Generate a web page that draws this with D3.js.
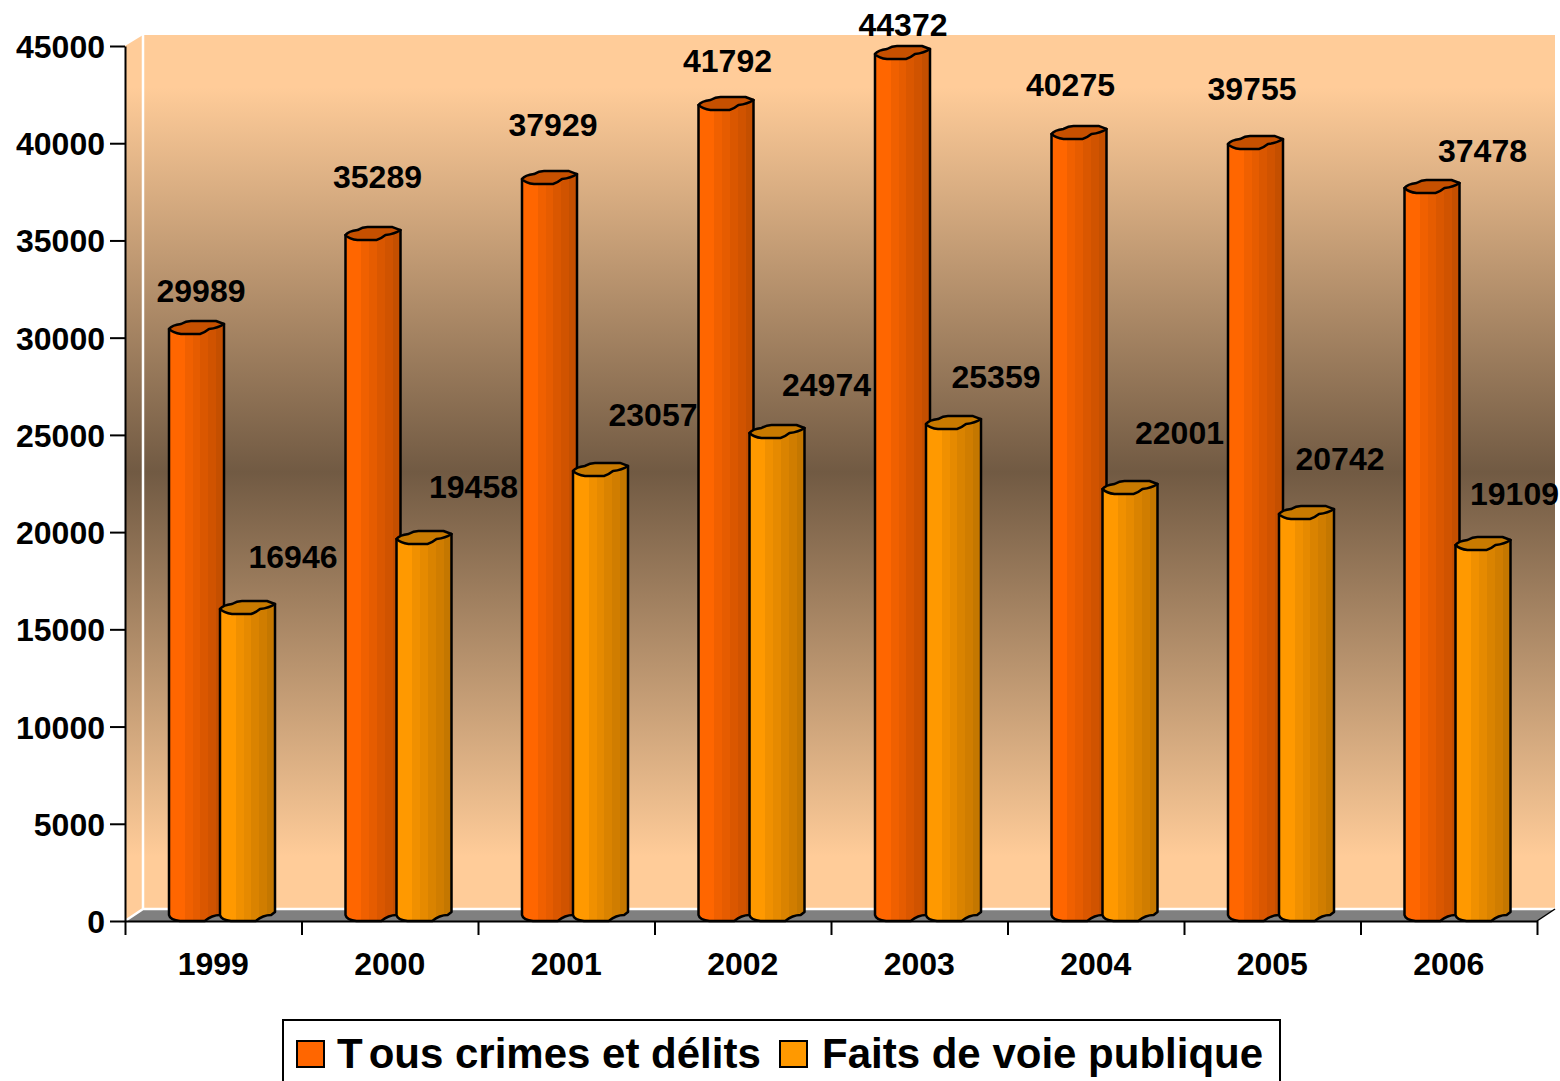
<!DOCTYPE html>
<html>
<head>
<meta charset="utf-8">
<script src="https://cdnjs.cloudflare.com/ajax/libs/d3/7.8.5/d3.min.js"></script>
<style>
    html, body { margin: 0; padding: 0; background: #fff; overflow: hidden; }
    text { font-family: "Liberation Sans", Arial, sans-serif; font-weight: bold; fill: #000; font-kerning: none; }
    .axis text { font-size: 32px; }
    .axis path, .axis line { stroke: #000; stroke-width: 2px; fill: none; }
    .value-label { font-size: 32px; text-anchor: middle; }
    .legend-label { font-size: 42px; }
</style>
</head>
<body>
<div id="chart"></div>
<script>
// printed values
const years = ["1999", "2000", "2001", "2002", "2003", "2004", "2005", "2006"];
const tousLabels = [29989, 35289, 37929, 41792, 44372, 40275, 39755, 37478];
const faitsLabels = [16946, 19458, 23057, 24974, 25359, 22001, 20742, 19109];

// heights, they don't always agree with the printed values
const tousHeights = [30190, 35020, 37900, 41710, 44330, 40220, 39700, 37440];
const faitsHeights = [15790, 19390, 22890, 24840, 25300, 21960, 20670, 19080];

const yTicks = [0, 5000, 10000, 15000, 20000, 25000, 30000, 35000, 40000, 45000];
const seriesNames = ["Tous crimes et délits", "Faits de voie publique"];

const colors = {
    wallLight: "#ffcc99",
    wallDark: "#715a43",
    floor: "#808080",
    tous: ["#ff6600", "#ff6600", "#f06000", "#e65c00", "#da5700", "#d05300", "#c44f00"],
    tousCap: "#c65000",
    faits: ["#ff9900", "#ff9900", "#f09000", "#e68a00", "#da8300", "#d07d00", "#c47700"],
    faitsCap: "#c87a00"
};

// hand placed labels, they sit irregularly in the original
const tousNudge = [[5, -47], [5, -58], [4, -59], [2, -48], [1, -33], [-8, -53], [-3, -59], [51, -41]];
const faitsNudge = [[46, -35], [50, -56], [53, -58], [50, -51], [43, -51], [50, -60], [34, -59], [32, -56]];

const width = 1560, height = 1081;
const plot = {left: 125, right: 1537, top: 46, bottom: 921, depthX: 18, depthY: 12};
const wallTop = plot.top - plot.depthY + 1;
const wallBottom = plot.bottom - plot.depthY;

let svg = d3.select("#chart").append("svg")
    .attr("width", width)
    .attr("height", height)
    .style("display", "block");

let defs = svg.append("defs");

// wall gradient is shared by back and side wall
let wallGrad = defs.append("linearGradient")
    .attr("id", "wall")
    .attr("gradientUnits", "userSpaceOnUse")
    .attr("x1", 0).attr("x2", 0)
    .attr("y1", wallTop).attr("y2", wallBottom);
wallGrad.append("stop").attr("offset", "6%").attr("stop-color", colors.wallLight);
wallGrad.append("stop").attr("offset", "50%").attr("stop-color", colors.wallDark);
wallGrad.append("stop").attr("offset", "94%").attr("stop-color", colors.wallLight);

// stepped shading across a column
function columnGradient(id, steps) {
    let grad = defs.append("linearGradient").attr("id", id);
    steps.forEach((c, i) => {
        grad.append("stop").attr("offset", (i / steps.length * 100) + "%").attr("stop-color", c);
        grad.append("stop").attr("offset", ((i + 1) / steps.length * 100) + "%").attr("stop-color", c);
    });
}
columnGradient("tous-grad", colors.tous);
columnGradient("faits-grad", colors.faits);

// scales
let x = d3.scaleBand().domain(years).range([plot.left, plot.right]);
let xEdges = d3.scaleLinear().domain([0, years.length]).range([plot.left, plot.right]);
let xSeries = d3.scaleBand().domain(seriesNames).range([44, 146]);
let y = d3.scaleLinear().domain([0, 45000]).range([plot.bottom, plot.top]);

const columnWidth = 55;

// walls and floor
svg.append("polygon")
    .attr("points", [
        [plot.left, plot.top], [plot.left + plot.depthX, wallTop],
        [plot.left + plot.depthX, wallBottom], [plot.left, plot.bottom]
    ].join(" "))
    .attr("fill", "url(#wall)");
svg.append("rect")
    .attr("x", plot.left + plot.depthX)
    .attr("y", wallTop)
    .attr("width", plot.right - plot.left)
    .attr("height", wallBottom - wallTop)
    .attr("fill", "url(#wall)");
svg.append("polygon")
    .attr("points", [
        [plot.left, plot.bottom], [plot.left + plot.depthX, wallBottom],
        [plot.right + plot.depthX, wallBottom], [plot.right, plot.bottom]
    ].join(" "))
    .attr("fill", colors.floor);
svg.append("path")
    .attr("d", "M" + (plot.left + plot.depthX) + "," + wallTop +
        "V" + wallBottom + "H" + (plot.right + plot.depthX) +
        "M" + (plot.left + plot.depthX) + "," + wallBottom + "L" + plot.left + "," + plot.bottom)
    .attr("stroke", "#fff")
    .attr("stroke-width", 2.5)
    .attr("fill", "none");
svg.append("line")
    .attr("x1", plot.right).attr("y1", plot.bottom)
    .attr("x2", plot.right + plot.depthX).attr("y2", wallBottom)
    .attr("stroke", "#000")
    .attr("stroke-width", 1.5);

// axes
let yAxis = d3.axisLeft(y).tickValues(yTicks).tickFormat(d3.format("d")).tickSize(15).tickPadding(5).tickSizeOuter(0);
svg.append("g").attr("class", "axis y-axis")
    .attr("transform", "translate(" + plot.left + ",0)")
    .call(yAxis)
    .selectAll("text")
    .attr("dy", "0.36em");

let xTickAxis = d3.axisBottom(xEdges).ticks(years.length).tickFormat("").tickSize(14).tickSizeOuter(0);
svg.append("g").attr("class", "axis x-ticks")
    .attr("transform", "translate(0," + plot.bottom + ")")
    .call(xTickAxis);

let xAxis = d3.axisBottom(x).tickSize(0).tickPadding(31);
let xLabels = svg.append("g").attr("class", "axis x-axis")
    .attr("transform", "translate(0," + plot.bottom + ")")
    .call(xAxis);
xLabels.select(".domain").remove();

// body of a wobbly 3d cylinder, w wide, front of the lid at yTop
function bodyPath(x0, yTop, yBase, w) {
    return "M" + x0 + "," + (yTop - 5) +
        "V" + (yBase - 6) +
        "Q" + (x0 + 1) + "," + (yBase - 1) + " " + (x0 + 11) + "," + yBase +
        "H" + (x0 + w * 0.65) +
        "Q" + (x0 + w * 0.78) + "," + (yBase - 6) + " " + (x0 + w * 0.93) + "," + (yBase - 6) +
        "L" + (x0 + w) + "," + (yBase - 9) +
        "V" + (yTop - 10) +
        "Z";
}

function capPath(x0, yTop, w) {
    return "M" + x0 + "," + (yTop - 5) +
        "Q" + (x0 + 3) + "," + (yTop - 9) + " " + (x0 + 12) + "," + (yTop - 10) +
        "Q" + (x0 + 17) + "," + (yTop - 13) + " " + (x0 + 22) + "," + (yTop - 13) +
        "L" + (x0 + w - 8) + "," + (yTop - 13) +
        "L" + (x0 + w) + "," + (yTop - 10) +
        "Q" + (x0 + w - 6) + "," + (yTop - 6) + " " + (x0 + w - 15) + "," + (yTop - 5) +
        "Q" + (x0 + w - 20) + "," + (yTop - 1) + " " + (x0 + w - 24) + "," + yTop +
        "L" + (x0 + 12) + "," + yTop +
        "Q" + (x0 + 4) + "," + (yTop - 1) + " " + x0 + "," + (yTop - 5) +
        "Z";
}

function drawColumns(name, values, gradId, capColor) {
    let cols = svg.append("g").attr("class", "columns")
        .selectAll("g")
        .data(values)
        .join("g");

    cols.append("path")
        .attr("d", (d, i) => bodyPath(x(years[i]) + xSeries(name), y(d), plot.bottom, columnWidth))
        .attr("fill", "url(#" + gradId + ")")
        .attr("stroke", "#000")
        .attr("stroke-width", 2.5)
        .attr("stroke-linejoin", "round");

    cols.append("path")
        .attr("d", (d, i) => capPath(x(years[i]) + xSeries(name), y(d), columnWidth))
        .attr("fill", capColor)
        .attr("stroke", "#000")
        .attr("stroke-width", 2.5)
        .attr("stroke-linejoin", "round");
}

drawColumns(seriesNames[0], tousHeights, "tous-grad", colors.tousCap);
drawColumns(seriesNames[1], faitsHeights, "faits-grad", colors.faitsCap);

// value labels
function drawLabels(name, values, nudge) {
    svg.append("g").attr("class", "labels")
        .selectAll("text")
        .data(values)
        .join("text")
        .attr("class", "value-label")
        .attr("x", (d, i) => x(years[i]) + xSeries(name) + 56 / 2 - 1 + nudge[i][0])
        .attr("y", (d, i) => y(d) + nudge[i][1])
        .attr("dy", "0.35em")
        .text(d => d);
}
drawLabels(seriesNames[0], tousLabels, tousNudge);
drawLabels(seriesNames[1], faitsLabels, faitsNudge);

// legend runs off the bottom of the picture, like the original
let legend = svg.append("g").attr("class", "legend");
legend.append("rect")
    .attr("x", 283)
    .attr("y", 1020)
    .attr("width", 997)
    .attr("height", 80)
    .attr("fill", "#fff")
    .attr("stroke", "#000")
    .attr("stroke-width", 2);

let legendX = [297, 780];
let legendTextX = [337, 822];
let legendGap = [6, 0]; // the original leaves a hole after the T
let legendColors = [colors.tous[0], colors.faits[0]];
seriesNames.forEach((name, i) => {
    legend.append("rect")
        .attr("x", legendX[i])
        .attr("y", 1041)
        .attr("width", 27)
        .attr("height", 26)
        .attr("fill", legendColors[i])
        .attr("stroke", "#000")
        .attr("stroke-width", 2);
    let label = legend.append("text")
        .attr("class", "legend-label")
        .attr("x", legendTextX[i])
        .attr("y", 1068);
    label.append("tspan").text(name.slice(0, 1));
    label.append("tspan").attr("dx", legendGap[i]).text(name.slice(1));
});
</script>
</body>
</html>
